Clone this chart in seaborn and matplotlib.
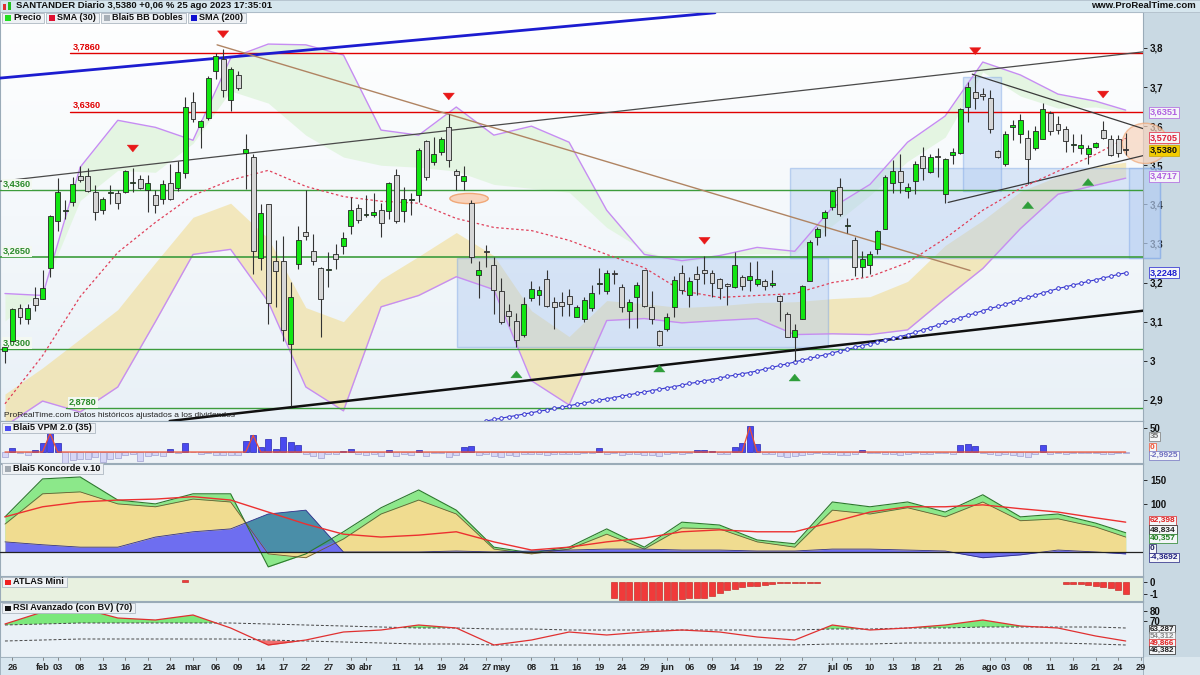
import numpy as np
import pandas as pd
import matplotlib
matplotlib.use('Agg')
import matplotlib.pyplot as plt
import matplotlib.transforms as mtransforms
from matplotlib.patches import Rectangle, Ellipse
import seaborn as sns

sns.set_theme(style='white')
plt.rcParams['font.family'] = ['Liberation Sans Narrow', 'Liberation Sans', 'DejaVu Sans']

# ---------------- data ----------------
holidays = ['2023-04-07', '2023-04-10', '2023-05-01']
all_days = pd.bdate_range('2023-01-25', '2023-08-31')
all_days = all_days[~all_days.isin(pd.to_datetime(holidays))]
day_pos = {d: i for i, d in enumerate(all_days)}

opens = [3.025,3.051,3.134,3.107,3.160,3.158,3.237,3.357,3.382,3.406,
         3.472,3.472,3.432,3.385,3.429,3.429,3.431,3.455,3.465,3.438,
         3.423,3.415,3.455,3.442,3.480,3.661,3.599,3.622,3.741,3.773,
         3.667,3.731,3.532,3.521,3.262,3.400,3.255,3.254,3.043,3.248,
         3.329,3.282,3.237,3.231,3.272,3.293,3.345,3.391,3.372,3.372,
         3.386,3.383,3.476,3.383,3.412,3.425,3.561,3.509,3.534,3.597,
         3.485,3.460,3.403,3.220,3.278,3.246,3.178,3.127,3.103,3.067,
         3.160,3.169,3.208,3.150,3.151,3.165,3.113,3.107,3.135,3.197,
         3.179,3.225,3.188,3.128,3.162,3.231,3.137,3.077,3.081,3.137,
         3.225,3.169,3.221,3.232,3.225,3.209,3.196,3.188,3.215,3.207,
         3.197,3.203,3.194,3.165,3.120,3.062,3.108,3.205,3.316,3.366,
         3.393,3.444,3.345,3.308,3.239,3.246,3.286,3.338,3.455,3.485,
         3.434,3.460,3.524,3.483,3.524,3.426,3.526,3.532,3.648,3.688,
         3.682,3.673,3.537,3.504,3.598,3.579,3.571,3.545,3.568,3.634,
         3.605,3.594,3.551,3.545,3.530,3.547,3.590,3.567,3.567,3.540]
highs = [3.040,3.135,3.145,3.145,3.188,3.232,3.372,3.468,3.412,3.470,
         3.497,3.492,3.449,3.420,3.449,3.437,3.487,3.493,3.474,3.474,
         3.436,3.463,3.504,3.511,3.675,3.688,3.617,3.728,3.786,3.797,
         3.752,3.742,3.579,3.528,3.402,3.402,3.308,3.320,3.201,3.344,
         3.436,3.325,3.240,3.278,3.299,3.329,3.419,3.402,3.423,3.428,
         3.403,3.457,3.491,3.444,3.428,3.543,3.564,3.573,3.573,3.631,
         3.491,3.497,3.410,3.255,3.297,3.265,3.212,3.145,3.121,3.162,
         3.205,3.190,3.231,3.164,3.175,3.184,3.142,3.162,3.194,3.237,
         3.231,3.231,3.197,3.158,3.201,3.233,3.178,3.079,3.121,3.218,
         3.246,3.214,3.243,3.267,3.231,3.212,3.198,3.278,3.220,3.252,
         3.254,3.210,3.232,3.167,3.124,3.094,3.195,3.308,3.341,3.385,
         3.436,3.467,3.366,3.316,3.280,3.282,3.334,3.474,3.513,3.528,
         3.455,3.511,3.547,3.530,3.543,3.518,3.543,3.646,3.714,3.731,
         3.697,3.692,3.539,3.588,3.615,3.631,3.590,3.600,3.660,3.638,
         3.626,3.600,3.581,3.581,3.551,3.560,3.614,3.577,3.577,3.583]
lows = [2.995,3.050,3.094,3.094,3.128,3.158,3.215,3.333,3.363,3.397,
        3.457,3.432,3.359,3.376,3.400,3.389,3.429,3.432,3.440,3.380,
        3.378,3.402,3.410,3.433,3.467,3.610,3.545,3.617,3.720,3.675,
        3.638,3.692,3.440,3.222,3.231,3.094,3.137,3.051,2.885,3.235,
        3.310,3.246,3.060,3.188,3.235,3.274,3.325,3.352,3.367,3.368,
        3.316,3.363,3.352,3.355,3.372,3.406,3.463,3.500,3.526,3.496,
        3.436,3.436,3.250,3.161,3.241,3.120,3.094,3.090,3.034,3.060,
        3.154,3.143,3.137,3.081,3.115,3.115,3.111,3.098,3.128,3.171,
        3.171,3.197,3.124,3.085,3.084,3.137,3.094,3.038,3.077,3.113,
        3.171,3.138,3.169,3.197,3.164,3.158,3.143,3.186,3.180,3.178,
        3.190,3.180,3.188,3.102,3.060,3.000,3.106,3.204,3.297,3.320,
        3.385,3.369,3.327,3.218,3.215,3.222,3.273,3.336,3.429,3.429,
        3.416,3.427,3.462,3.479,3.470,3.403,3.504,3.530,3.611,3.645,
        3.667,3.583,3.519,3.497,3.564,3.556,3.453,3.538,3.566,3.577,
        3.581,3.534,3.534,3.530,3.504,3.543,3.566,3.523,3.521,3.526]
closes = [3.035,3.132,3.111,3.134,3.143,3.186,3.369,3.431,3.383,3.451,
          3.462,3.433,3.380,3.413,3.432,3.403,3.485,3.456,3.442,3.455,
          3.399,3.451,3.413,3.483,3.650,3.618,3.612,3.722,3.779,3.692,
          3.745,3.697,3.541,3.280,3.379,3.147,3.229,3.079,3.162,3.310,
          3.319,3.255,3.158,3.232,3.261,3.314,3.386,3.359,3.373,3.380,
          3.352,3.455,3.357,3.414,3.413,3.540,3.470,3.530,3.567,3.513,
          3.476,3.472,3.265,3.231,3.277,3.181,3.100,3.115,3.054,3.145,
          3.184,3.182,3.140,3.137,3.139,3.145,3.137,3.156,3.173,3.197,
          3.225,3.221,3.137,3.151,3.194,3.139,3.107,3.041,3.113,3.207,
          3.180,3.205,3.208,3.225,3.198,3.186,3.190,3.246,3.190,3.216,
          3.208,3.190,3.199,3.152,3.062,3.079,3.191,3.305,3.336,3.380,
          3.434,3.376,3.345,3.239,3.261,3.272,3.331,3.470,3.485,3.457,
          3.444,3.504,3.494,3.520,3.520,3.515,3.533,3.644,3.701,3.671,
          3.678,3.594,3.521,3.579,3.602,3.615,3.517,3.588,3.643,3.588,
          3.591,3.562,3.553,3.553,3.545,3.556,3.571,3.527,3.532,3.538]

# indicator lines read every 5 sessions
band_idx = [0,5,10,15,20,25,30,35,40,45,50,55,60,65,70,75,80,85,90,95,
            100,105,110,115,120,125,130,135,140,145,149]
bb_outer_up = [3.172,3.167,3.495,3.615,3.597,3.564,3.774,3.810,3.808,3.782,3.590,3.577,3.649,3.577,3.600,3.559,
               3.385,3.272,3.256,3.269,3.290,3.280,3.392,3.451,3.559,3.626,3.764,3.731,3.682,3.664,3.641]
bb_inner_up = [3.102,3.179,3.410,3.487,3.482,3.556,3.690,3.659,3.577,3.521,3.500,3.495,3.485,3.451,3.441,3.431,
               3.341,3.282,3.251,3.269,3.274,3.274,3.346,3.423,3.510,3.572,3.739,3.677,3.646,3.649,3.636]
bb_inner_lo = [2.915,2.982,3.056,3.131,3.251,3.367,3.403,3.313,3.136,3.100,3.208,3.267,3.328,3.269,3.128,3.062,
               3.154,3.146,3.136,3.141,3.149,3.151,3.159,3.164,3.203,3.295,3.359,3.433,3.472,3.497,3.508]
bb_outer_lo = [2.833,2.897,2.869,2.933,3.100,3.272,3.285,3.151,2.933,2.872,3.138,3.167,3.215,3.182,2.949,2.887,
               3.103,3.108,3.097,3.103,3.108,3.067,3.069,3.067,3.079,3.159,3.236,3.338,3.426,3.449,3.467]
sma30 = [2.890,3.013,3.164,3.277,3.354,3.423,3.462,3.487,3.446,3.420,3.408,3.403,3.364,3.341,3.333,3.308,
         3.272,3.238,3.179,3.162,3.167,3.172,3.200,3.215,3.251,3.313,3.385,3.441,3.485,3.528,3.569]

sma200 = [2.846,2.850,2.853,2.857,2.860,2.864,2.867,2.871,2.874,2.878,2.881,2.885,2.889,2.892,2.896,2.899,
          2.903,2.906,2.910,2.913,2.917,2.920,2.924,2.927,2.931,2.934,2.938,2.942,2.945,2.949,2.952,2.956,
          2.960,2.963,2.967,2.970,2.974,2.979,2.983,2.988,2.992,2.997,3.002,3.006,3.011,3.015,3.020,3.025,
          3.029,3.034,3.039,3.043,3.048,3.053,3.058,3.062,3.067,3.073,3.079,3.085,3.091,3.098,3.104,3.110,
          3.116,3.122,3.128,3.134,3.139,3.145,3.151,3.157,3.162,3.168,3.174,3.179,3.185,3.189,3.194,3.198,
          3.203,3.207,3.212,3.216,3.221,3.225]
sma200_start = 64

levels_red = [3.786, 3.636]
levels_green = [3.436, 3.265, 3.030, 2.878]

# drawn objects (session index, price)
trend_blue = [(-0.66, 3.723), (94.4, 3.890)]
trend_gray = [(-0.66, 3.459), (151.3, 3.790)]
trend_black = [(21.9, 2.846), (151.3, 3.128)]
trend_brown = [(28.2, 3.808), (128.3, 3.231)]
tri_upper = [(128.6, 3.733), (151.6, 3.592)]
tri_lower = [(125.4, 3.405), (151.6, 3.526)]
boxes = [(60.1, 3.036, 109.4, 3.262), (104.4, 3.262, 153.6, 3.492),
         (149.5, 3.262, 153.6, 3.492), (127.4, 3.433, 132.4, 3.726)]
arrows_down = [(17, 3.541), (29, 3.833), (59, 3.674), (93, 3.305), (129, 3.790), (146, 3.679)]
arrows_up = [(68, 2.967), (87, 2.982), (105, 2.959), (136, 3.400), (144, 3.459)]

vpm = [-11,8,-3,-6,4,18,39,18,-22,-17,-15,-15,-10,-21,-15,-13,-6,-4,-18,-8,
       -6,-8,6,-3,18,0,-4,-3,-6,-7,-7,-7,24,35,11,28,7,32,22,15,
       -5,-8,-12,-5,-5,3,6,-5,-6,-4,-8,4,-8,-5,-6,5,-8,-3,-3,-10,
       -6,10,12,-6,-5,-8,-10,-6,-8,-4,-5,-4,-6,-5,-5,-4,-5,-3,-3,8,
       -4,-3,-6,-5,-4,-6,-6,-8,-4,-3,-5,-3,4,5,3,-4,-4,10,18,55,
       16,-5,-4,-8,-10,-8,-6,-4,-3,-5,-4,-6,-6,-5,5,-3,-3,-4,-5,-6,
       -4,-3,-5,-4,-3,-3,-4,14,16,12,-3,-4,-6,-5,-6,-8,-10,-5,14,-4,
       -3,-4,-3,-3,-3,-3,-4,-4,-3,-3]
vpm_sig_idx = [0, 5, 6, 7, 32, 33, 34, 98, 99, 100, 149]
vpm_sig = [0, 0, 39, 0, 0, 35, 0, 0, 52, 0, 0]

k_green = [73,152,156,108,100,121,121,-31,-4,42,92,129,87,10,-2,10,48,10,62,56,25,17,104,94,104,83,119,73,79,60,40]
k_brown = [58,121,125,100,94,110,104,-4,-12,27,79,108,79,6,-4,6,37,6,50,48,21,10,87,79,92,73,104,65,69,52,31]
k_blue = [21,15,10,10,31,42,48,79,87,0,0,0,2,0,2,4,6,6,4,4,2,2,6,6,4,2,-12,-6,4,0,-4]
k_mean = [73,94,104,108,110,115,108,83,58,37,31,35,42,21,4,10,21,29,42,46,42,42,62,83,94,94,98,90,83,71,62]

atlas_idx = [24] + list(range(81, 109)) + list(range(141, 150))
atlas_val = [0.15, -1.3,-1.5,-1.5,-1.5,-1.6,-1.6,-1.5,-1.5,-1.5,-1.4,-1.3,-1.3,-1.3,-1.2,-0.9,-0.7,-0.6,
             -0.45,-0.35,-0.3,-0.25,-0.15,-0.1,-0.1,-0.1,-0.1,-0.1,-0.1,
             -0.15,-0.2,-0.2,-0.25,-0.3,-0.4,-0.5,-0.65,-1.0]

rsi = [67,79,83,73,71,76,63,46,51,59,61,66,63,46,51,59,56,59,61,59,54,51,66,61,63,66,71,65,63,55,50]
rsi_up = [66,67,68,68,68,68,68,67,66,65,64,63,63,62,62,61,61,61,61,61,61,61,62,62,63,63,64,64,64,64,63]
rsi_lo = [50,51,52,52,52,52,52,51,50,49,48,47,47,46,46,46,46,46,46,46,46,46,47,47,48,48,48,48,48,47,46]

tick_dates = ['2023-01-26','2023-02-01','2023-02-03','2023-02-08','2023-02-13','2023-02-16','2023-02-21',
              '2023-02-24','2023-03-01','2023-03-06','2023-03-09','2023-03-14','2023-03-17','2023-03-22',
              '2023-03-27','2023-03-30','2023-04-03','2023-04-11','2023-04-14','2023-04-19','2023-04-24',
              '2023-04-27','2023-05-02','2023-05-08','2023-05-11','2023-05-16','2023-05-19','2023-05-24',
              '2023-05-29','2023-06-01','2023-06-06','2023-06-09','2023-06-14','2023-06-19','2023-06-22',
              '2023-06-27','2023-07-03','2023-07-05','2023-07-10','2023-07-13','2023-07-18','2023-07-21',
              '2023-07-26','2023-08-01','2023-08-03','2023-08-08','2023-08-11','2023-08-16','2023-08-21',
              '2023-08-24','2023-08-29']
tick_labels = ['26','feb','03','08','13','16','21','24','mar','06','09','14','17','22','27','30','abr',
               '11','14','19','24','27','may','08','11','16','19','24','29','jun','06','09','14','19','22',
               '27','jul','05','10','13','18','21','26','ago','03','08','11','16','21','24','29']

# ---------------- layout ----------------
W, H = 1200, 675
XL = (-0.66, 151.3)
fig = plt.figure(figsize=(12, 6.75), dpi=100)
fig.patch.set_facecolor('#dbe7ee')
renderer = fig.canvas.get_renderer()
FS = 6.6


def box(x0, y0, x1, y1):
    return fig.add_axes([x0 / W, 1 - y1 / H, (x1 - x0) / W, (y1 - y0) / H])


def fig_rect(x0, y0, x1, y1, **kw):
    fig.add_artist(Rectangle((x0 / W, 1 - y1 / H), (x1 - x0) / W, (y1 - y0) / H,
                             transform=fig.transFigure, **kw))


strip = box(1143, 12, 1200, 657)
strip.set_facecolor('#c9d9e3')
strip.set_xticks([]); strip.set_yticks([])
for s in strip.spines.values():
    s.set_visible(False)


def style_panel(a, fc):
    a.set_facecolor(fc)
    a.set_xlim(XL)
    a.set_xticks([])
    a.yaxis.tick_right()
    a.tick_params(axis='y', length=3, width=0.6, pad=2, labelsize=FS + 0.4, colors='#111111',
                  direction='out')
    for s in a.spines.values():
        s.set_color('#9aabb8'); s.set_linewidth(0.8)


def bold_ticks(a):
    for lab in a.get_yticklabels():
        lab.set_fontweight('bold')


def right_tag(a, y, text, color, fc='#f4f6f8', ec=None, fs=FS):
    tr = mtransforms.blended_transform_factory(a.transAxes, a.transData)
    a.text(1.006, y, text, transform=tr, fontsize=fs, fontweight='bold', color=color,
           va='center', ha='left', clip_on=False, zorder=20,
           bbox=dict(boxstyle='square,pad=0.12', fc=fc, ec=ec or color, lw=0.5))


def label_box(x0, yc, icon, text, hgt=10):
    t = fig.text((x0 + 11) / W, 1 - yc / H, text, fontsize=FS, fontweight='bold',
                 va='center', ha='left', color='#111111', zorder=32)
    x1 = t.get_window_extent(renderer).x1 + 3
    fig_rect(x0, yc - hgt / 2, x1, yc + hgt / 2, fc='#eef1f4', ec='#aeb8c2', lw=0.6, zorder=30)
    fig_rect(x0 + 3, yc - hgt / 2 + 2.5, x0 + 9, yc + hgt / 2 - 2.5, fc=icon, ec='none', zorder=31)
    return x1


# ---------------- main panel ----------------
ax = box(0, 12, 1143, 421)
style_panel(ax, '#f6f9fb')
ax.set_ylim(2.846, 3.892)
grad = np.linspace(0, 1, 100).reshape(-1, 1)
ax.imshow(grad, extent=(XL[0], XL[1], 2.846, 3.892), aspect='auto', origin='upper',
          cmap=matplotlib.colors.LinearSegmentedColormap.from_list('bg', ['#ffffff', '#e9f1f7']),
          zorder=0)
ax.set_yticks(np.round(np.arange(2.9, 3.81, 0.1), 1))
ax.set_yticklabels(['2,9', '3', '3,1', '3,2', '3,3', '3,4', '3,5', '3,6', '3,7', '3,8'])
bold_ticks(ax)

# double bollinger bands
ax.fill_between(band_idx, bb_inner_up, bb_outer_up, color='#e2f5e0', alpha=0.9, lw=0, zorder=1)
ax.fill_between(band_idx, bb_outer_lo, bb_inner_lo, color='#f2df9c', alpha=0.65, lw=0, zorder=1)
for series in (bb_outer_up, bb_outer_lo):
    sns.lineplot(x=band_idx, y=series, ax=ax, color='#c68df2', lw=1.0, estimator=None,
                 sort=False, zorder=3)

# boxes and ellipses
for x0, y0, x1, y1 in boxes:
    ax.add_patch(Rectangle((x0, y0), x1 - x0, y1 - y0, fc='#b4cdf2', ec='#7ea6e6', alpha=0.45,
                           lw=1.0, zorder=2, clip_on=False))
ax.add_patch(Ellipse((61.7, 3.415), 5.1, 0.026, fc='#f8d4bd', ec='#f0a878', lw=1.0, zorder=3))
ax.add_patch(Ellipse((151.6, 3.556), 6.1, 0.103, fc='#f8d4bd', ec='#f0a878', lw=1.0, alpha=0.7,
                     zorder=3, clip_on=False))

# horizontal levels
for lv in levels_red:
    ax.plot([8.6, XL[1]], [lv, lv], color='#e00000', lw=1.0, zorder=3)
    ax.text(9.0, lv + 0.006, f'{lv:.4f}'.replace('.', ','), color='#e00000', fontsize=FS,
            fontweight='bold', va='bottom', zorder=6)
for lv in levels_green:
    x0 = 8.1 if lv < 2.9 else XL[0]
    ax.plot([x0, XL[1]], [lv, lv], color='#3c9c3c', lw=1.2 if lv == 3.265 else 1.0, zorder=3)
    ax.text(x0 + 0.4, lv + 0.004, f'{lv:.4f}'.replace('.', ','), color='#2a8a2a', fontsize=FS,
            fontweight='bold', va='bottom', zorder=6,
            bbox=dict(boxstyle='square,pad=0.12', fc='#f3f8f1', ec='none'))

# trend lines
for pts, col, lw in [(trend_blue, '#1c1cd0', 2.0), (trend_gray, '#4a4a4a', 0.9),
                     (trend_black, '#101010', 1.8), (trend_brown, '#b08462', 1.0),
                     (tri_upper, '#3a3a3a', 0.9), (tri_lower, '#3a3a3a', 0.9)]:
    ax.plot([p[0] for p in pts], [p[1] for p in pts], color=col, lw=lw, zorder=4)

# moving averages
sns.lineplot(x=band_idx, y=sma30, ax=ax, color='#e0405a', lw=0.9, linestyle=(0, (2, 2)),
             estimator=None, sort=False, zorder=4)
sma200_x = list(range(sma200_start, sma200_start + len(sma200)))
ax.plot(sma200_x, sma200, color='#3434d0', lw=0.8, marker='o', ms=2.6, mfc='white',
        mec='#3434d0', mew=0.7, zorder=4)

# candles
idx = np.arange(len(closes))
o, h, l, c = map(np.array, (opens, highs, lows, closes))
up = c >= o
ax.vlines(idx, l, h, color='#333333', lw=0.8, zorder=5)
ax.bar(idx, np.maximum(np.abs(c - o), 0.003), bottom=np.minimum(o, c), width=0.66,
       color=np.where(up, '#12e612', '#d6d6d6'), edgecolor='#262626', linewidth=0.6, zorder=6)

# signal arrows
for i, p in arrows_down:
    ax.annotate('', xy=(i, p - 0.014), xytext=(i, p + 0.014), zorder=7,
                arrowprops=dict(arrowstyle='simple,head_length=0.55,head_width=0.9,tail_width=0.4',
                                fc='#e81818', ec='#e81818', lw=0.3, mutation_scale=9))
for i, p in arrows_up:
    ax.annotate('', xy=(i, p + 0.014), xytext=(i, p - 0.014), zorder=7,
                arrowprops=dict(arrowstyle='simple,head_length=0.55,head_width=0.9,tail_width=0.4',
                                fc='#2e9e3a', ec='#2e9e3a', lw=0.3, mutation_scale=9))

ax.text(XL[0] + 0.5, 2.851, 'ProRealTime.com Datos históricos ajustados a los dividendos',
        fontsize=6.0, color='#222222', va='bottom', zorder=8)

right_tag(ax, 3.6351, '3,6351', '#b060e0')
right_tag(ax, 3.5705, '3,5705', '#e0203a')
right_tag(ax, 3.5380, '3,5380', '#111111', fc='#f2cc00', ec='#c8a800')
right_tag(ax, 3.4717, '3,4717', '#b060e0')
right_tag(ax, 3.2248, '3,2248', '#2020d0')

# ---------------- VPM ----------------
av = box(0, 421, 1143, 463)
style_panel(av, '#edf2f7')
av.set_ylim(-23, 65)
av.set_yticks([50]); av.set_yticklabels(['50'])
bold_ticks(av)
vp = np.array(vpm)
av.bar(idx, vp, width=0.8, color=np.where(vp > 0, '#4a4af0', '#d6d6f6'),
       edgecolor=np.where(vp > 0, '#2828b0', '#a0a0d0'), linewidth=0.5, zorder=2)
sns.lineplot(x=vpm_sig_idx, y=vpm_sig, ax=av, color='#f05030', lw=0.9, estimator=None,
             sort=False, zorder=3)
right_tag(av, 33, '35', '#777777', fs=FS - 0.6)
right_tag(av, 9, '0', '#f05030', fs=FS - 0.6)
right_tag(av, -8, '-2,9925', '#7070c0', fs=FS - 0.6)

# ---------------- Koncorde ----------------
ak = box(0, 464, 1143, 576)
style_panel(ak, '#eef3f7')
ak.set_ylim(-50, 183)
ak.set_yticks([100, 150]); ak.set_yticklabels(['100', '150'])
bold_ticks(ak)
kg, kb_, kbl = np.array(k_green), np.array(k_brown), np.array(k_blue)
ak.fill_between(band_idx, 0, kg, color='#8ce88a', lw=0, zorder=1)
ak.plot(band_idx, kg, color='#2c7a2c', lw=0.8, zorder=4)
ak.fill_between(band_idx, 0, kb_, color='#f0dc90', lw=0, zorder=2)
ak.plot(band_idx, kb_, color='#6a5a30', lw=0.6, zorder=4)
ak.fill_between(band_idx, 0, kbl, color='#6e6ef0', lw=0, zorder=3)
ak.fill_between(band_idx, np.maximum(kb_, 0), kbl, where=kbl > kb_, interpolate=True,
                color='#4a8ea8', lw=0, zorder=3)
ak.plot(band_idx, kbl, color='#30308a', lw=0.6, zorder=4)
ak.axhline(0, color='#222222', lw=0.9, zorder=4)
sns.lineplot(x=band_idx, y=k_mean, ax=ak, color='#ec3030', lw=1.0, estimator=None, sort=False,
             zorder=5)
right_tag(ak, 65, '62,398', '#e02020', fs=FS - 0.6)
right_tag(ak, 46, '48,834', '#222222', fs=FS - 0.6)
right_tag(ak, 28, '40,357', '#208020', fs=FS - 0.6)
right_tag(ak, 8, '0', '#202060', fs=FS - 0.6)
right_tag(ak, -11, '-4,3692', '#202080', fs=FS - 0.6)

# ---------------- ATLAS ----------------
aa = box(0, 577, 1143, 601)
style_panel(aa, '#e8f1e0')
aa.set_ylim(-1.58, 0.42)
aa.set_yticks([0, -1]); aa.set_yticklabels(['0', '-1'])
bold_ticks(aa)
aa.bar(atlas_idx, atlas_val, width=0.8, color='#f03a3a', edgecolor='#c01818', linewidth=0.4,
       zorder=2)

# ---------------- RSI ----------------
ar = box(0, 602, 1143, 657)
style_panel(ar, '#eaf1f7')
ar.set_ylim(34, 89)
ar.set_yticks([70, 80]); ar.set_yticklabels(['70', '80'])
bold_ticks(ar)
rs, ru, rl = np.array(rsi), np.array(rsi_up), np.array(rsi_lo)
ar.fill_between(band_idx, ru, rs, where=rs > ru, interpolate=True, color='#7ce87c', lw=0, zorder=1)
ar.fill_between(band_idx, rl, rs, where=rs < rl, interpolate=True, color='#f07070', lw=0, zorder=1)
ar.plot(band_idx, ru, color='#444444', lw=0.7, ls=(0, (3, 2)), zorder=2)
ar.plot(band_idx, rl, color='#444444', lw=0.7, ls=(0, (3, 2)), zorder=2)
sns.lineplot(x=band_idx, y=rsi, ax=ar, color='#e03030', lw=0.9, estimator=None, sort=False, zorder=3)
right_tag(ar, 62, '63,287', '#222222', fs=FS - 0.8)
right_tag(ar, 55, '54,312', '#888888', fs=FS - 0.8)
right_tag(ar, 48, '49,866', '#e02020', fs=FS - 0.8)
right_tag(ar, 41, '46,382', '#222222', fs=FS - 0.8)

# ---------------- time axis ----------------
ax_t = box(0, 657, 1143, 675)
ax_t.set_facecolor('#d8e6ef')
ax_t.set_xlim(XL); ax_t.set_ylim(0, 1)
ax_t.set_xticks([]); ax_t.set_yticks([])
for s in ax_t.spines.values():
    s.set_color('#9aabb8'); s.set_linewidth(0.6)
tick_pos = [day_pos[pd.Timestamp(d)] for d in tick_dates]
for p, lab in zip(tick_pos, tick_labels):
    ax_t.text(p, 0.42, lab, ha='center', va='center', fontsize=FS, fontweight='bold',
              color='#222222', clip_on=False)
    ax_t.plot([p, p], [0.85, 1.0], color='#777777', lw=0.6)

# ---------------- header & legend ----------------
fig_rect(0, 0, 1200, 12, fc='#d6e6ee', ec='#aab8c4', lw=0.5, zorder=1)
fig.text(16 / W, 1 - 6 / H, 'SANTANDER Diario 3,5380 +0,06 % 25 ago 2023 17:35:01', fontsize=6.8,
         fontweight='bold', va='center', ha='left', color='#111111', zorder=5)
fig_rect(3, 4, 6, 10, fc='#e03030', ec='none', zorder=5)
fig_rect(8, 2, 11, 10, fc='#20c020', ec='none', zorder=5)
fig.text(1196 / W, 1 - 6 / H, 'www.ProRealTime.com', fontsize=6.8, fontweight='bold',
         va='center', ha='right', color='#111111', zorder=5)

legend_items = [('#22dd22', 'Precio'), ('#e01030', 'SMA (30)'),
                ('#a8b0b8', 'Blai5 BB Dobles'), ('#1010d0', 'SMA (200)')]
xl = 2
for colr, name in legend_items:
    xl = label_box(xl, 18, colr, name) + 2

label_box(2, 428, '#4a4af0', 'Blai5 VPM 2.0 (35)')
label_box(2, 468.5, '#a0a8b0', 'Blai5 Koncorde v.10', hgt=11)
label_box(2, 582, '#f02020', 'ATLAS Mini')
label_box(2, 608, '#111111', 'RSI Avanzado (con BV) (70)')

fig.savefig('out.png', dpi=100, facecolor=fig.get_facecolor())
